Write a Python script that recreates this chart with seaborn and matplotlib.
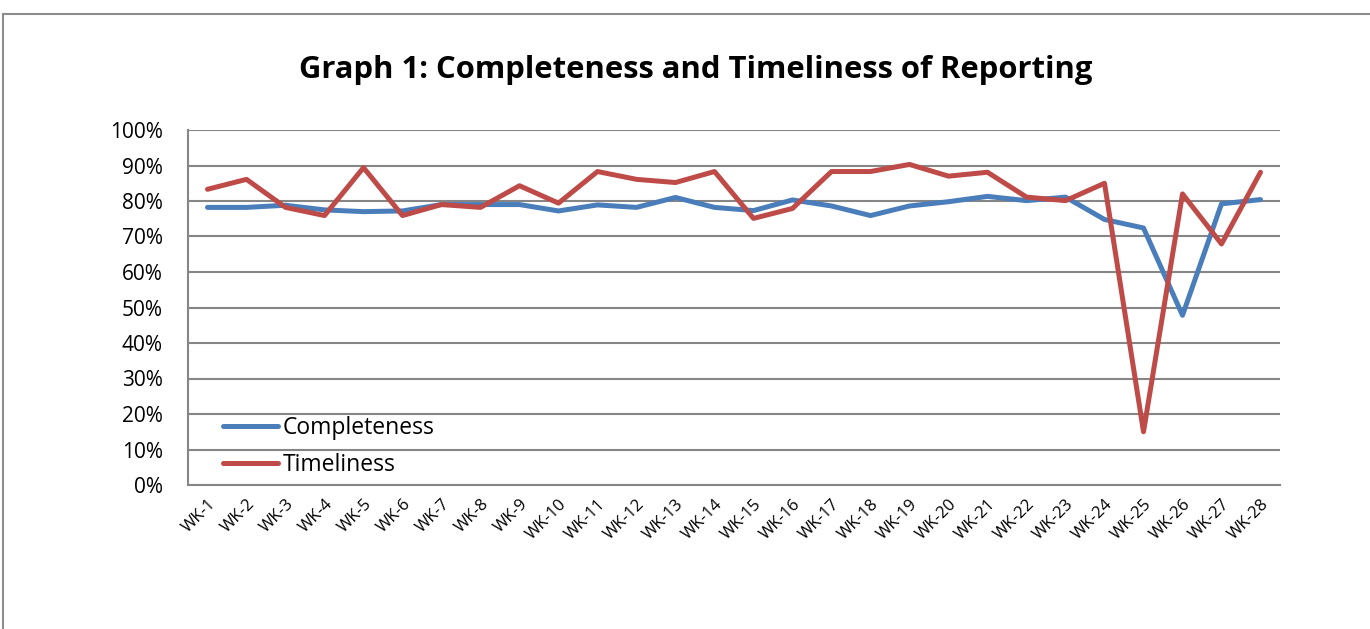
import numpy as np
import pandas as pd
import matplotlib
matplotlib.use("Agg")
import matplotlib.pyplot as plt
import seaborn as sns
from matplotlib.patches import Rectangle

weeks = ["WK-%d" % i for i in range(1, 29)]
completeness = [78.2, 78.2, 78.8, 77.5, 77.0, 77.2, 79.0, 79.0, 79.0, 77.2,
                78.9, 78.2, 81.0, 78.2, 77.3, 80.3, 78.6, 75.9, 78.6, 79.8,
                81.3, 80.1, 81.1, 74.8, 72.4, 47.8, 79.2, 80.4]
timeliness = [83.3, 86.1, 78.2, 75.9, 89.4, 75.9, 79.0, 78.2, 84.3, 79.4,
              88.3, 86.1, 85.2, 88.3, 75.1, 77.9, 88.3, 88.3, 90.3, 87.0,
              88.1, 81.1, 80.1, 85.0, 15.0, 82.0, 67.9, 88.1]

df = pd.DataFrame({"week": weeks * 2,
                   "value": completeness + timeliness,
                   "series": ["Completeness"] * 28 + ["Timeliness"] * 28})

sns.set_style("white")
plt.rcParams["font.family"] = ["Open Sans", "DejaVu Sans"]
plt.rcParams["text.color"] = "black"
plt.rcParams["xtick.color"] = "black"
plt.rcParams["ytick.color"] = "black"

fig = plt.figure(figsize=(13.7, 6.29), dpi=100)
# outer chart frame
fig.patches.append(Rectangle((3 / 1370, -0.1), 1.2, 1 - 14 / 629 + 0.1, transform=fig.transFigure,
                             fill=False, edgecolor="#8c8c8c", linewidth=1.5))
ax = fig.add_axes([188 / 1370, 1 - 485 / 629, (1280 - 188) / 1370, (485 - 130) / 629])

sns.lineplot(data=df, x="week", y="value", hue="series", sort=False,
             palette={"Completeness": "#4a7ebb", "Timeliness": "#be4b48"},
             linewidth=3.6, ax=ax)

ax.set_xlim(-0.5, 27.5)
ax.set_ylim(0, 100)
ax.set_yticks(np.arange(0, 101, 10))
ax.set_yticklabels(["%d%%" % v for v in range(0, 101, 10)], fontsize=15)
ax.set_xticks(range(28))
ax.set_xticklabels(weeks, rotation=45, ha="right", rotation_mode="anchor", fontsize=12)
ax.yaxis.grid(True, color="#868686", linewidth=1.5)
ax.set_axisbelow(True)
for s in ["top", "right"]:
    ax.spines[s].set_visible(False)
for s in ["left", "bottom"]:
    ax.spines[s].set_color("#868686")
    ax.spines[s].set_linewidth(1.5)
ax.tick_params(axis="y", length=0, pad=18)
ax.tick_params(axis="x", length=0, pad=8)
ax.set_xlabel("")
ax.set_ylabel("")

leg = ax.legend(loc="upper left", bbox_to_anchor=(0.032, 0.195), frameon=False,
                borderaxespad=0, borderpad=0,
                fontsize=16.5, handlelength=2.4, handletextpad=0.22, labelspacing=0.58)
for h in leg.get_lines():
    h.set_linewidth(3.6)

fig.text(0.508, 1 - 70 / 629, "Graph 1: Completeness and Timeliness of Reporting",
         ha="center", va="center", fontsize=22.3, fontweight="bold")

fig.savefig("out.png", dpi=100)
